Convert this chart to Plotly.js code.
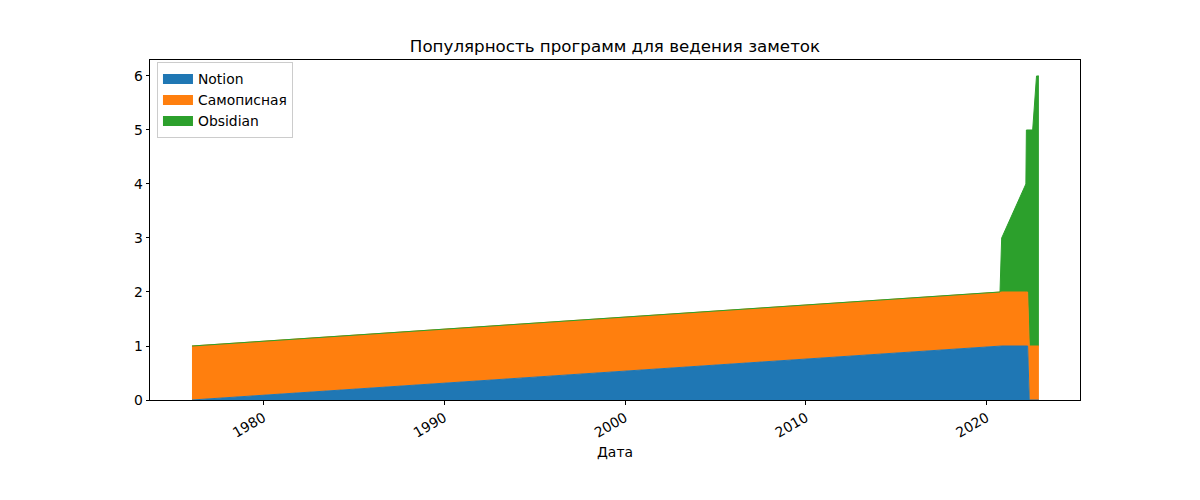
<!DOCTYPE html>
<html>
<head>
<meta charset="utf-8">
<script src="https://cdn.plot.ly/plotly-3.0.1.min.js"></script>
<style>body{margin:0;background:#fff;} #chart{width:1200px;height:500px;}</style>
</head>
<body>
<div id="chart"></div>
<script>
const dates = ['1976-01-20','2020-09-26','2020-10-30','2022-03-03','2022-03-13','2022-04-07','2022-05-10','2022-07-18','2022-10-04','2022-11-21'];
const notion = [0,1,1,1,1,1,0,0,0,0];
const samopis = [1,1,1,1,1,1,1,1,1,1];
const obsidian = [0,0,1,2,3,3,4,4,5,5];
const names = ['Notion','Самописная','Obsidian'];
const colors = ['#1f77b4','#ff7f0e','#2ca02c'];
const series = [notion, samopis, obsidian];
const yearTicks = ['1980','1990','2000','2010','2020'];

const traces = series.map((s,i)=>({
  type:'scatter', mode:'lines', x:dates, y:s, name:names[i],
  stackgroup:'one', fillcolor:colors[i], showlegend:false,
  line:{color:colors[i], width:1}, hoverinfo:'skip'
}));
// legend entries (no data), drawn as filled rectangles like matplotlib patches
names.forEach((n,i)=>traces.push({
  type:'scatter', mode:'lines', x:[null], y:[null], name:n,
  line:{color:colors[i], width:10}, showlegend:true, hoverinfo:'skip'
}));

const font = {family:'DejaVu Sans, sans-serif', color:'#000'};
const layout = {
  width:1200, height:500,
  margin:{l:150, r:120, t:60, b:100, pad:0},
  paper_bgcolor:'#fff', plot_bgcolor:'#fff',
  font:Object.assign({size:14}, font),
  title:{text:'Популярность программ для ведения заметок', font:Object.assign({size:16.7}, font), x:0.5, xref:'paper', xanchor:'center', y:1-46/500, yanchor:'middle'},
  showlegend:true,
  legend:{x:0.0075, y:0.993, xanchor:'left', yanchor:'top', bgcolor:'rgba(255,255,255,0.8)', bordercolor:'#cccccc', borderwidth:1, font:Object.assign({size:13.9}, font), traceorder:'normal', itemwidth:30, tracegroupgap:0},
  xaxis:{type:'date', range:['1973-09-24','2025-02-28'],
    tickvals:yearTicks.map(y=>y+'-01-01'), ticktext:yearTicks,
    tickangle:-30, ticks:'outside', ticklen:3.5, tickwidth:1, tickcolor:'#000',
    showline:true, linecolor:'#000', linewidth:1, mirror:true, showgrid:false, zeroline:false,
    tickfont:Object.assign({size:13.9}, font),
    title:{text:'Дата', font:Object.assign({size:13.9}, font), standoff:7}},
  yaxis:{range:[0,6.296], tickmode:'linear', tick0:0, dtick:1,
    ticks:'outside', ticklen:3.5, tickwidth:1, tickcolor:'#000',
    showline:true, linecolor:'#000', linewidth:1, mirror:true, showgrid:false, zeroline:false,
    tickfont:Object.assign({size:13.9}, font)}
};
Plotly.newPlot('chart', traces, layout, {displayModeBar:false, staticPlot:true});
</script>
</body>
</html>
